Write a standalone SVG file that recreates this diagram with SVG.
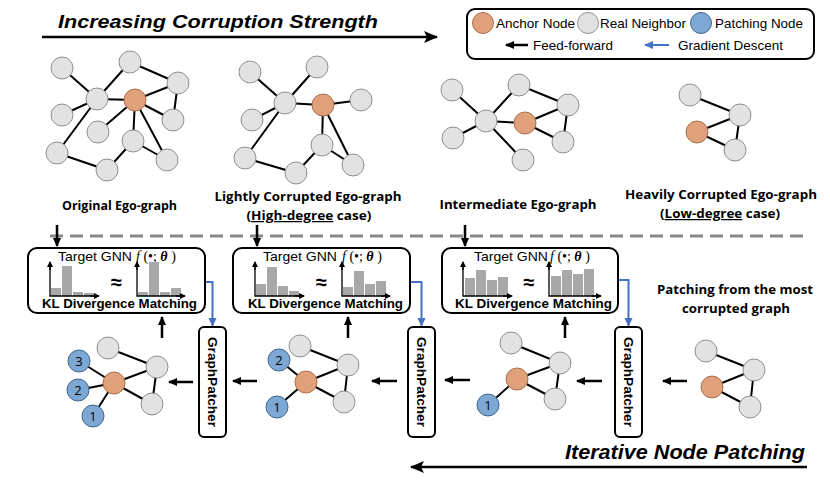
<svg xmlns="http://www.w3.org/2000/svg" width="830" height="481" viewBox="0 0 830 481">
<defs>
<style>
.anchor{fill:#E0A07A;stroke:#A8704F;stroke-width:1}
.real{fill:#E2E2E2;stroke:#8F8F8F;stroke-width:1}
.patch{fill:#7EA8D4;stroke:#42668E;stroke-width:1}
.edge{stroke:#000;stroke-width:2;fill:none}
.box{fill:#fff;stroke:#000;stroke-width:2}
.bar{fill:#A8A8A8}
.axis{stroke:#000;stroke-width:1.3;fill:none}
.ff{stroke:#000;stroke-width:2.5;fill:none}
.gd{stroke:#4472C4;stroke-width:2;fill:none}
.lbl{font-family:"Open Sans","Noto Sans",sans-serif;font-weight:700;font-size:12.5px;fill:#000}
.ar{font-family:"Liberation Sans",Arial,sans-serif;fill:#000}
.num{font-family:"Open Sans","Noto Sans",sans-serif;font-size:13px;fill:#000;text-anchor:middle}
</style>
<marker id="ah" markerUnits="userSpaceOnUse" markerWidth="9" markerHeight="9" refX="8" refY="4.5" orient="auto"><path d="M0,0.5 L9,4.5 L0,8.5 z" fill="#000"/></marker>
<marker id="ahb" markerUnits="userSpaceOnUse" markerWidth="9" markerHeight="9" refX="8" refY="4.5" orient="auto"><path d="M0,0.5 L9,4.5 L0,8.5 z" fill="#4472C4"/></marker>
<marker id="big" markerUnits="userSpaceOnUse" markerWidth="14" markerHeight="14" refX="13" refY="7" orient="auto"><path d="M0,1 L14,7 L0,13 L3,7 z" fill="#000"/></marker>
<marker id="ax" markerUnits="userSpaceOnUse" markerWidth="6" markerHeight="6" refX="5" refY="3" orient="auto"><path d="M0,0 L6,3 L0,6 z" fill="#000"/></marker>
</defs>
<rect width="830" height="481" fill="#fff"/>

<!-- titles -->
<text class="ar" x="58" y="28" font-size="19" font-weight="700" font-style="italic" textLength="320" lengthAdjust="spacingAndGlyphs">Increasing Corruption Strength</text>
<text class="ar" x="565" y="459" font-size="20" font-weight="700" font-style="italic" textLength="240" lengthAdjust="spacingAndGlyphs">Iterative Node Patching</text>

<!-- legend -->
<g id="legend">
<rect x="467" y="9" width="347" height="50" rx="8" fill="#fff" stroke="#000" stroke-width="2"/>
<circle class="anchor" cx="483" cy="23" r="10.5"/>
<text class="ar" x="496" y="28" font-size="13.5" textLength="79" lengthAdjust="spacingAndGlyphs">Anchor Node</text>
<circle class="real" cx="588" cy="23" r="10.5"/>
<text class="ar" x="600" y="28" font-size="13.5" textLength="86" lengthAdjust="spacingAndGlyphs">Real Neighbor</text>
<circle class="patch" cx="701" cy="23" r="10.5"/>
<text class="ar" x="715" y="28" font-size="13.5" textLength="88" lengthAdjust="spacingAndGlyphs">Patching Node</text>
<line class="ff" x1="528" y1="45" x2="506" y2="45" stroke-width="2.5" marker-end="url(#ah)"/>
<text class="ar" x="533" y="50" font-size="13.5" textLength="80" lengthAdjust="spacingAndGlyphs">Feed-forward</text>
<line class="gd" x1="669" y1="45" x2="645" y2="45" stroke-width="2.5" marker-end="url(#ahb)"/>
<text class="ar" x="678" y="50" font-size="13.5" textLength="105" lengthAdjust="spacingAndGlyphs">Gradient Descent</text>
</g>

<!-- graph labels -->
<text class="lbl" x="119.5" y="210" text-anchor="middle" textLength="115" lengthAdjust="spacingAndGlyphs">Original Ego-graph</text>
<text class="lbl" x="308" y="201" text-anchor="middle" textLength="187" lengthAdjust="spacingAndGlyphs">Lightly Corrupted Ego-graph</text>
<text class="lbl" x="309" y="220" text-anchor="middle" textLength="125" lengthAdjust="spacingAndGlyphs">(<tspan text-decoration="underline">High-degree</tspan> case)</text>
<text class="lbl" x="518" y="209" text-anchor="middle" textLength="157" lengthAdjust="spacingAndGlyphs">Intermediate Ego-graph</text>
<text class="lbl" x="721" y="199" text-anchor="middle" textLength="192" lengthAdjust="spacingAndGlyphs">Heavily Corrupted Ego-graph</text>
<text class="lbl" x="720" y="218" text-anchor="middle" textLength="120" lengthAdjust="spacingAndGlyphs">(<tspan text-decoration="underline">Low-degree</tspan> case)</text>
<text class="lbl" x="735" y="294" text-anchor="middle" textLength="156" lengthAdjust="spacingAndGlyphs">Patching from the most</text>
<text class="lbl" x="736" y="313" text-anchor="middle" textLength="108" lengthAdjust="spacingAndGlyphs">corrupted graph</text>

<!-- connectors -->
<g id="connectors">
<line class="ff" x1="42" y1="37" x2="437" y2="37" marker-end="url(#big)"/>
<line class="ff" x1="807" y1="467" x2="411" y2="467" marker-end="url(#big)"/>
<line x1="50" y1="236" x2="808" y2="236" stroke="#888" stroke-width="3" stroke-dasharray="13,7"/>
<!-- graph 1 edges -->
<path class="edge" d="M62,68 L97,99 M97,99 L130,62 M130,62 L178,83 M178,83 L135,100 M178,83 L173,120 M97,99 L135,100 M97,99 L62,115 M97,99 L57,153 M57,153 L107,170 M107,170 L133,141 M133,141 L167,160 M135,100 L98,132 M135,100 L133,141 M135,100 L167,160 M135,100 L173,120"/>
<!-- graph 2 edges -->
<path class="edge" d="M250,72 L285,103 M285,103 L317,67 M285,103 L323,105 M285,103 L252,120 M285,103 L245,158 M245,158 L296,173 M296,173 L322,145 M322,145 L353,165 M323,105 L322,145 M323,105 L353,165 M323,105 L361,100"/>
<!-- graph 3 edges -->
<path class="edge" d="M452,90 L486,121 M486,121 L519,85 M519,85 L568,105 M568,105 L525,123 M568,105 L563,142 M525,123 L563,142 M486,121 L525,123 M486,121 L453,138 M486,121 L523,160"/>
<!-- graph 4 edges -->
<path class="edge" d="M690,95 L740,115 M740,115 L697,132 M740,115 L735,150 M697,132 L735,150"/>
<!-- bottom graph edges -->
<path class="edge" d="M108,348 L157,367 M157,367 L114,383 M157,367 L152,404 M114,383 L152,404 M114,383 L79,361 M114,383 L78,390 M114,383 L93,416"/>
<path class="edge" d="M300,346 L348,365 M348,365 L306,382 M348,365 L344,402 M306,382 L344,402 M306,382 L279,360 M306,382 L277,407"/>
<path class="edge" d="M511,343 L560,363 M560,363 L517,379 M560,363 L555,399 M517,379 L555,399 M517,379 L488,405"/>
<path class="edge" d="M706,351 L754,370 M754,370 L712,387 M754,370 L750,407 M712,387 L750,407"/>
<!-- feed-forward arrows -->
<line class="ff" x1="57" y1="225" x2="57" y2="246" marker-end="url(#ah)"/>
<line class="ff" x1="257" y1="225" x2="257" y2="246" marker-end="url(#ah)"/>
<line class="ff" x1="465" y1="225" x2="465" y2="246" marker-end="url(#ah)"/>
<line class="ff" x1="162" y1="338" x2="162" y2="317" marker-end="url(#ah)"/>
<line class="ff" x1="348" y1="338" x2="348" y2="317" marker-end="url(#ah)"/>
<line class="ff" x1="565" y1="338" x2="565" y2="317" marker-end="url(#ah)"/>
<line class="ff" x1="193" y1="382" x2="169" y2="382" marker-end="url(#ah)"/>
<line class="ff" x1="257" y1="381" x2="233" y2="381" marker-end="url(#ah)"/>
<line class="ff" x1="397" y1="381" x2="372" y2="381" marker-end="url(#ah)"/>
<line class="ff" x1="470" y1="380" x2="445" y2="380" marker-end="url(#ah)"/>
<line class="ff" x1="602" y1="381" x2="577" y2="381" marker-end="url(#ah)"/>
<line class="ff" x1="687" y1="381" x2="663" y2="381" marker-end="url(#ah)"/>
<!-- gradient descent arrows -->
<polyline class="gd" points="205,282 212.5,282 212.5,326" marker-end="url(#ahb)"/>
<polyline class="gd" points="410,282 421.5,282 421.5,326" marker-end="url(#ahb)"/>
<polyline class="gd" points="618,280 628.5,280 628.5,326" marker-end="url(#ahb)"/>
</g>

<!-- graph 1 nodes -->
<g id="g1">
<circle class="real" cx="62" cy="68" r="11"/>
<circle class="real" cx="130" cy="62" r="11"/>
<circle class="real" cx="178" cy="83" r="11"/>
<circle class="real" cx="97" cy="99" r="11"/>
<circle class="real" cx="62" cy="115" r="11"/>
<circle class="real" cx="173" cy="120" r="11"/>
<circle class="real" cx="98" cy="132" r="11"/>
<circle class="real" cx="133" cy="141" r="11"/>
<circle class="real" cx="57" cy="153" r="11"/>
<circle class="real" cx="107" cy="170" r="11"/>
<circle class="real" cx="167" cy="160" r="11"/>
<circle class="anchor" cx="135" cy="100" r="11"/>
</g>
<!-- graph 2 nodes -->
<g id="g2">
<circle class="real" cx="250" cy="72" r="11"/>
<circle class="real" cx="317" cy="67" r="11"/>
<circle class="real" cx="285" cy="103" r="11"/>
<circle class="real" cx="361" cy="100" r="11"/>
<circle class="real" cx="252" cy="120" r="11"/>
<circle class="real" cx="322" cy="145" r="11"/>
<circle class="real" cx="245" cy="158" r="11"/>
<circle class="real" cx="296" cy="173" r="11"/>
<circle class="real" cx="353" cy="165" r="11"/>
<circle class="anchor" cx="323" cy="105" r="11"/>
</g>
<!-- graph 3 nodes -->
<g id="g3">
<circle class="real" cx="452" cy="90" r="11"/>
<circle class="real" cx="519" cy="85" r="11"/>
<circle class="real" cx="568" cy="105" r="11"/>
<circle class="real" cx="486" cy="121" r="11"/>
<circle class="real" cx="453" cy="138" r="11"/>
<circle class="real" cx="563" cy="142" r="11"/>
<circle class="real" cx="523" cy="160" r="11"/>
<circle class="anchor" cx="525" cy="123" r="11"/>
</g>
<!-- graph 4 nodes -->
<g id="g4">
<circle class="real" cx="690" cy="95" r="11"/>
<circle class="real" cx="740" cy="115" r="11"/>
<circle class="real" cx="735" cy="150" r="11"/>
<circle class="anchor" cx="697" cy="132" r="11"/>
</g>

<!-- GNN boxes -->
<g id="gnn1">
<rect class="box" x="28" y="248" width="177" height="65" rx="9"/>
<text class="ar" x="58" y="261" font-size="13" textLength="74" lengthAdjust="spacingAndGlyphs">Target GNN</text>
<text x="136" y="261" font-family="Liberation Serif,serif" font-size="14"><tspan font-style="italic">f</tspan> (•; <tspan font-weight="700" font-style="italic">θ</tspan> )</text>
<rect class="bar" x="51" y="288" width="10" height="8"/><rect class="bar" x="62" y="266" width="10" height="30"/><rect class="bar" x="73" y="292" width="10" height="4"/><rect class="bar" x="84" y="293" width="10" height="3"/>
<polyline class="axis" points="50,263 50,296 98,296"/><line class="axis" x1="50" y1="270" x2="50" y2="262" marker-end="url(#ax)"/><line class="axis" x1="90" y1="296" x2="99" y2="296" marker-end="url(#ax)"/>
<text class="ar" x="116.5" y="289" font-size="20" font-weight="700" text-anchor="middle">≈</text>
<rect class="bar" x="138" y="292" width="10" height="4"/><rect class="bar" x="149" y="262" width="10" height="34"/><rect class="bar" x="160" y="292" width="10" height="4"/><rect class="bar" x="171" y="288" width="10" height="8"/>
<polyline class="axis" points="137,263 137,296 183,296"/><line class="axis" x1="137" y1="270" x2="137" y2="262" marker-end="url(#ax)"/><line class="axis" x1="176" y1="296" x2="185" y2="296" marker-end="url(#ax)"/>
<text class="ar" x="42" y="308" font-size="13" font-weight="700" textLength="155" lengthAdjust="spacingAndGlyphs">KL Divergence Matching</text>
</g>
<g id="gnn2">
<rect class="box" x="233" y="248" width="177" height="65" rx="9"/>
<text class="ar" x="263" y="261" font-size="13" textLength="74" lengthAdjust="spacingAndGlyphs">Target GNN</text>
<text x="342" y="261" font-family="Liberation Serif,serif" font-size="14"><tspan font-style="italic">f</tspan> (•; <tspan font-weight="700" font-style="italic">θ</tspan> )</text>
<rect class="bar" x="256" y="284" width="10" height="12"/><rect class="bar" x="267" y="267" width="10" height="29"/><rect class="bar" x="278" y="286" width="10" height="10"/><rect class="bar" x="289" y="291" width="10" height="5"/>
<polyline class="axis" points="255,263 255,296 303,296"/><line class="axis" x1="255" y1="270" x2="255" y2="262" marker-end="url(#ax)"/><line class="axis" x1="295" y1="296" x2="304" y2="296" marker-end="url(#ax)"/>
<text class="ar" x="321.5" y="289" font-size="20" font-weight="700" text-anchor="middle">≈</text>
<rect class="bar" x="343" y="287" width="10" height="9"/><rect class="bar" x="354" y="271" width="10" height="25"/><rect class="bar" x="365" y="284" width="10" height="12"/><rect class="bar" x="376" y="281" width="10" height="15"/>
<polyline class="axis" points="342,263 342,296 388,296"/><line class="axis" x1="342" y1="270" x2="342" y2="262" marker-end="url(#ax)"/><line class="axis" x1="381" y1="296" x2="390" y2="296" marker-end="url(#ax)"/>
<text class="ar" x="248" y="308" font-size="13" font-weight="700" textLength="155" lengthAdjust="spacingAndGlyphs">KL Divergence Matching</text>
</g>
<g id="gnn3">
<rect class="box" x="442" y="248" width="176" height="65" rx="9"/>
<text class="ar" x="474" y="261" font-size="13" textLength="74" lengthAdjust="spacingAndGlyphs">Target GNN</text>
<text x="550" y="261" font-family="Liberation Serif,serif" font-size="14"><tspan font-style="italic">f</tspan> (•; <tspan font-weight="700" font-style="italic">θ</tspan> )</text>
<rect class="bar" x="465" y="278" width="10" height="18"/><rect class="bar" x="476" y="270" width="10" height="26"/><rect class="bar" x="487" y="280" width="10" height="16"/><rect class="bar" x="498" y="277" width="10" height="19"/>
<polyline class="axis" points="463,263 463,296 511,296"/><line class="axis" x1="463" y1="270" x2="463" y2="262" marker-end="url(#ax)"/><line class="axis" x1="503" y1="296" x2="512" y2="296" marker-end="url(#ax)"/>
<text class="ar" x="529" y="289" font-size="20" font-weight="700" text-anchor="middle">≈</text>
<rect class="bar" x="551" y="276" width="10" height="20"/><rect class="bar" x="562" y="270" width="10" height="26"/><rect class="bar" x="573" y="274" width="10" height="22"/><rect class="bar" x="584" y="269" width="10" height="27"/>
<polyline class="axis" points="549,263 549,296 600,296"/><line class="axis" x1="549" y1="270" x2="549" y2="262" marker-end="url(#ax)"/><line class="axis" x1="592" y1="296" x2="601" y2="296" marker-end="url(#ax)"/>
<text class="ar" x="455" y="308" font-size="13" font-weight="700" textLength="157" lengthAdjust="spacingAndGlyphs">KL Divergence Matching</text>
</g>

<!-- GraphPatcher boxes -->
<g id="gp1">
<rect class="box" x="199" y="327" width="27" height="110" rx="5"/>
<text class="ar" transform="translate(208,382) rotate(90)" font-size="13" font-weight="700" text-anchor="middle" textLength="90" lengthAdjust="spacingAndGlyphs">GraphPatcher</text>
</g>
<g id="gp2">
<rect class="box" x="408" y="327" width="27" height="110" rx="5"/>
<text class="ar" transform="translate(417,382) rotate(90)" font-size="13" font-weight="700" text-anchor="middle" textLength="90" lengthAdjust="spacingAndGlyphs">GraphPatcher</text>
</g>
<g id="gp3">
<rect class="box" x="615" y="327" width="27" height="110" rx="5"/>
<text class="ar" transform="translate(624,382) rotate(90)" font-size="13" font-weight="700" text-anchor="middle" textLength="90" lengthAdjust="spacingAndGlyphs">GraphPatcher</text>
</g>

<!-- bottom graphs -->
<g id="b1">
<circle class="real" cx="108" cy="348" r="11"/>
<circle class="real" cx="157" cy="367" r="11"/>
<circle class="real" cx="152" cy="404" r="11"/>
<circle class="anchor" cx="114" cy="383" r="11"/>
<circle class="patch" cx="79" cy="361" r="11"/><text class="num" x="79" y="366">3</text>
<circle class="patch" cx="78" cy="390" r="11"/><text class="num" x="78" y="395">2</text>
<circle class="patch" cx="93" cy="416" r="11"/><text class="num" x="93" y="421">1</text>
</g>
<g id="b2">
<circle class="real" cx="300" cy="346" r="11"/>
<circle class="real" cx="348" cy="365" r="11"/>
<circle class="real" cx="344" cy="402" r="11"/>
<circle class="anchor" cx="306" cy="382" r="11"/>
<circle class="patch" cx="279" cy="360" r="11"/><text class="num" x="279" y="365">2</text>
<circle class="patch" cx="277" cy="407" r="11"/><text class="num" x="277" y="412">1</text>
</g>
<g id="b3">
<circle class="real" cx="511" cy="343" r="11"/>
<circle class="real" cx="560" cy="363" r="11"/>
<circle class="real" cx="555" cy="399" r="11"/>
<circle class="anchor" cx="517" cy="379" r="11"/>
<circle class="patch" cx="488" cy="405" r="11"/><text class="num" x="488" y="410">1</text>
</g>
<g id="b4">
<circle class="real" cx="706" cy="351" r="11"/>
<circle class="real" cx="754" cy="370" r="11"/>
<circle class="real" cx="750" cy="407" r="11"/>
<circle class="anchor" cx="712" cy="387" r="11"/>
</g>
</svg>
